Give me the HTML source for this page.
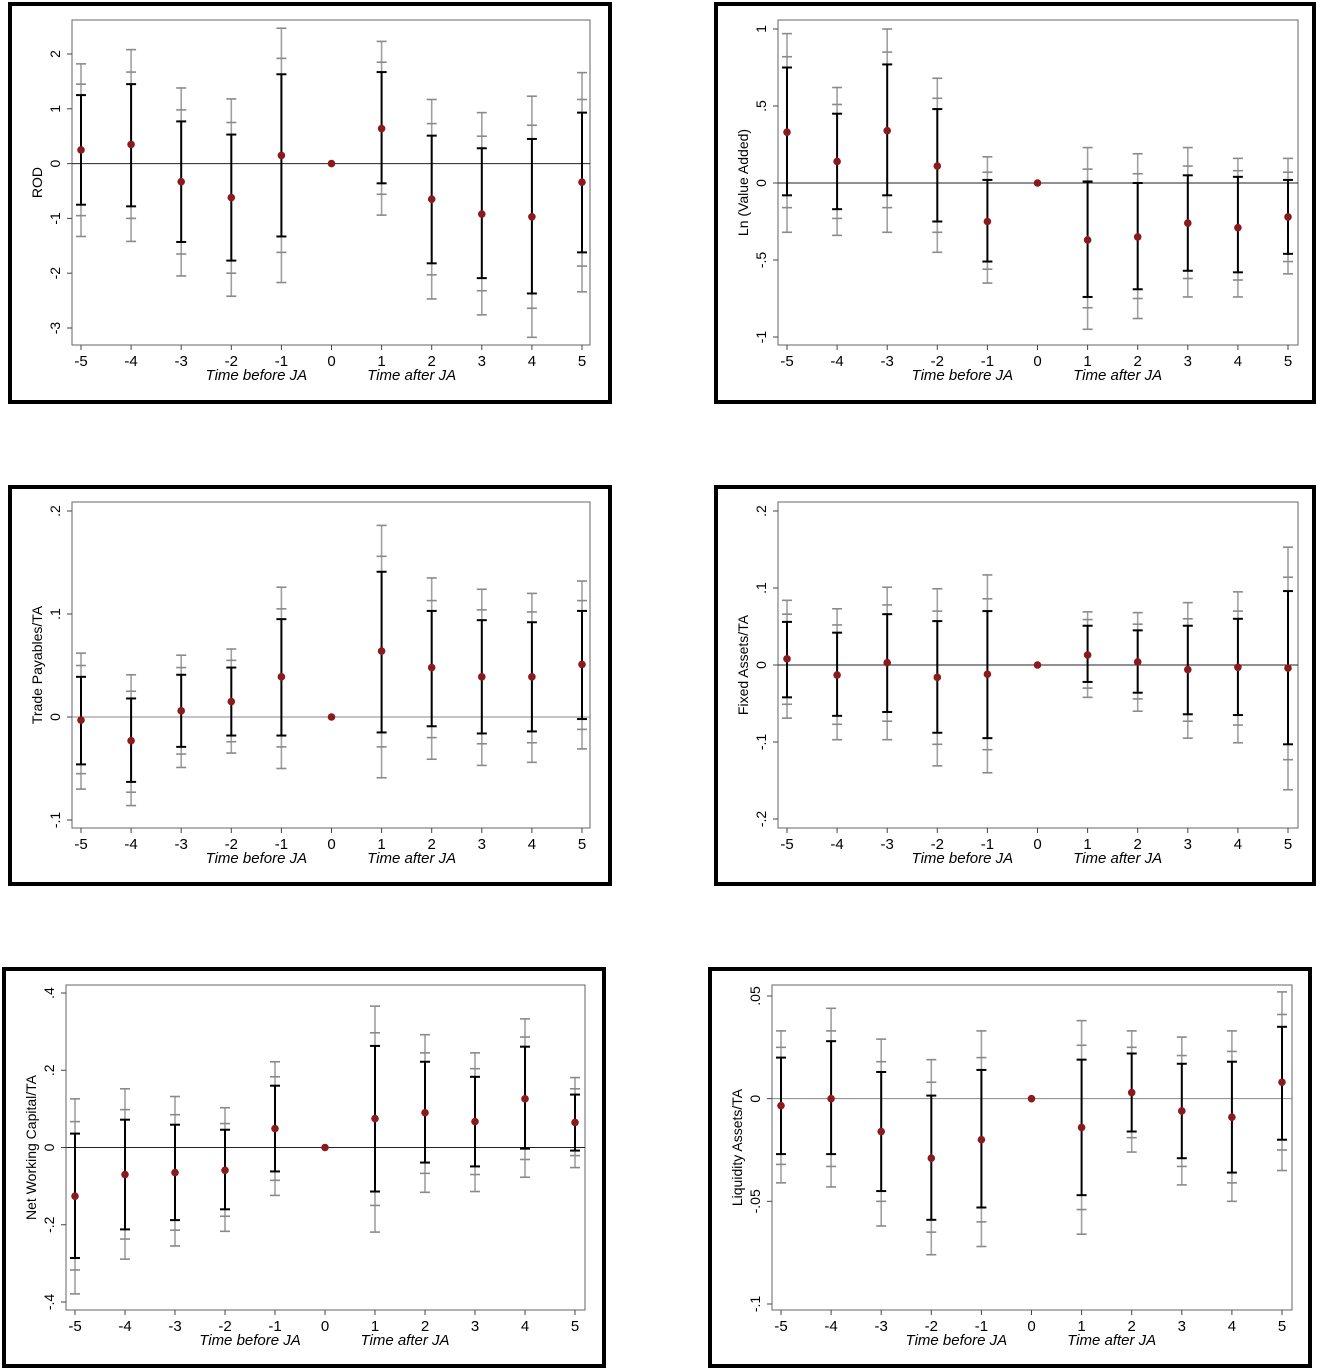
<!DOCTYPE html>
<html><head><meta charset="utf-8"><style>
html,body{margin:0;padding:0;background:#fff;}
svg{display:block;font-family:"Liberation Sans",Arial,sans-serif;}
</style></head><body>
<svg id="fig" width="1320" height="1372" viewBox="0 0 1320 1372"></svg>
<script>
const periods=[-5,-4,-3,-2,-1,0,1,2,3,4,5];
const xTickLabels=["-5","-4","-3","-2","-1","0","1","2","3","4","5"];

// Panel 1: ROD
const rodPoint=[0.25,0.35,-0.33,-0.62,0.15,0,0.64,-0.65,-0.92,-0.97,-0.34];
const rodHi90=[1.25,1.45,0.77,0.53,1.63,0,1.67,0.51,0.28,0.45,0.93];
const rodLo90=[-0.75,-0.78,-1.43,-1.77,-1.33,0,-0.36,-1.82,-2.09,-2.37,-1.62];
const rodHi95=[1.45,1.67,0.98,0.75,1.92,0,1.85,0.73,0.5,0.7,1.17];
const rodLo95=[-0.95,-1.0,-1.65,-2.0,-1.62,0,-0.56,-2.03,-2.32,-2.64,-1.87];
const rodHi99=[1.82,2.08,1.38,1.18,2.47,0,2.23,1.17,0.93,1.23,1.66];
const rodLo99=[-1.33,-1.42,-2.05,-2.42,-2.17,0,-0.94,-2.47,-2.76,-3.17,-2.34];
const rodTicks=[2,1,0,-1,-2,-3];
const rodTickLabels=["2","1","0","-1","-2","-3"];

// Panel 2: Ln (Value Added)
const vaPoint=[0.33,0.14,0.34,0.11,-0.25,0,-0.37,-0.35,-0.26,-0.29,-0.22];
const vaHi90=[0.75,0.45,0.77,0.48,0.02,0,0.01,0.0,0.05,0.04,0.02];
const vaLo90=[-0.08,-0.17,-0.08,-0.25,-0.51,0,-0.74,-0.69,-0.57,-0.58,-0.46];
const vaHi95=[0.82,0.51,0.85,0.55,0.07,0,0.09,0.06,0.11,0.08,0.07];
const vaLo95=[-0.16,-0.23,-0.16,-0.32,-0.56,0,-0.81,-0.75,-0.62,-0.63,-0.51];
const vaHi99=[0.97,0.62,1.0,0.68,0.17,0,0.23,0.19,0.23,0.16,0.16];
const vaLo99=[-0.32,-0.34,-0.32,-0.45,-0.65,0,-0.95,-0.88,-0.74,-0.74,-0.59];
const vaTicks=[1,0.5,0,-0.5,-1];
const vaTickLabels=["1",".5","0","-.5","-1"];

// Panel 3: Trade Payables/TA
const tpPoint=[-0.003,-0.023,0.006,0.015,0.039,0,0.064,0.048,0.039,0.039,0.051];
const tpHi90=[0.039,0.018,0.041,0.048,0.095,0,0.141,0.103,0.094,0.092,0.103];
const tpLo90=[-0.046,-0.063,-0.029,-0.018,-0.018,0,-0.015,-0.009,-0.016,-0.014,-0.002];
const tpHi95=[0.05,0.025,0.048,0.055,0.105,0,0.156,0.113,0.104,0.102,0.113];
const tpLo95=[-0.055,-0.073,-0.036,-0.024,-0.029,0,-0.029,-0.02,-0.026,-0.025,-0.012];
const tpHi99=[0.062,0.041,0.06,0.066,0.126,0,0.186,0.135,0.124,0.12,0.132];
const tpLo99=[-0.07,-0.086,-0.049,-0.035,-0.05,0,-0.059,-0.041,-0.047,-0.044,-0.031];
const tpTicks=[0.2,0.1,0,-0.1];
const tpTickLabels=[".2",".1","0","-.1"];

// Panel 4: Fixed Assets/TA
const faPoint=[0.008,-0.013,0.003,-0.016,-0.012,0,0.013,0.004,-0.006,-0.003,-0.004];
const faHi90=[0.056,0.042,0.066,0.057,0.07,0,0.051,0.045,0.051,0.06,0.096];
const faLo90=[-0.042,-0.066,-0.061,-0.088,-0.095,0,-0.022,-0.036,-0.064,-0.065,-0.103];
const faHi95=[0.066,0.052,0.078,0.07,0.086,0,0.059,0.053,0.06,0.07,0.114];
const faLo95=[-0.051,-0.077,-0.073,-0.103,-0.11,0,-0.03,-0.044,-0.073,-0.078,-0.123];
const faHi99=[0.084,0.073,0.101,0.099,0.117,0,0.069,0.068,0.081,0.095,0.153];
const faLo99=[-0.069,-0.097,-0.097,-0.131,-0.14,0,-0.042,-0.06,-0.095,-0.101,-0.162];
const faTicks=[0.2,0.1,0,-0.1,-0.2];
const faTickLabels=[".2",".1","0","-.1","-.2"];

// Panel 5: Net Working Capital/TA
const nwPoint=[-0.126,-0.07,-0.065,-0.059,0.049,0,0.075,0.09,0.067,0.126,0.065];
const nwHi90=[0.036,0.072,0.059,0.046,0.16,0,0.263,0.222,0.183,0.261,0.137];
const nwLo90=[-0.286,-0.212,-0.188,-0.16,-0.062,0,-0.114,-0.039,-0.049,-0.003,-0.008];
const nwHi95=[0.067,0.098,0.085,0.062,0.183,0,0.297,0.245,0.204,0.286,0.152];
const nwLo95=[-0.317,-0.237,-0.214,-0.178,-0.085,0,-0.15,-0.067,-0.07,-0.031,-0.021];
const nwHi99=[0.126,0.152,0.132,0.103,0.222,0,0.366,0.292,0.245,0.333,0.181];
const nwLo99=[-0.379,-0.289,-0.255,-0.217,-0.124,0,-0.219,-0.116,-0.114,-0.077,-0.052];
const nwTicks=[0.4,0.2,0,-0.2,-0.4];
const nwTickLabels=[".4",".2","0","-.2","-.4"];

// Panel 6: Liquidity Assets/TA
const laPoint=[-0.0034,0,-0.016,-0.029,-0.02,0,-0.014,0.003,-0.006,-0.009,0.008];
const laHi90=[0.02,0.028,0.013,0.0015,0.014,0,0.019,0.022,0.017,0.018,0.035];
const laLo90=[-0.027,-0.027,-0.045,-0.059,-0.053,0,-0.047,-0.016,-0.029,-0.036,-0.02];
const laHi95=[0.025,0.033,0.018,0.008,0.02,0,0.026,0.025,0.021,0.023,0.041];
const laLo95=[-0.032,-0.033,-0.05,-0.065,-0.06,0,-0.054,-0.019,-0.033,-0.041,-0.025];
const laHi99=[0.033,0.044,0.029,0.019,0.033,0,0.038,0.033,0.03,0.033,0.052];
const laLo99=[-0.041,-0.043,-0.062,-0.076,-0.072,0,-0.066,-0.026,-0.042,-0.05,-0.035];
const laTicks=[0.05,0,-0.05,-0.1];
const laTickLabels=[".05","0","-.05","-.1"];

const NS="http://www.w3.org/2000/svg";
const svg=document.getElementById('fig');
function mk(tag,attrs,parent){const e=document.createElementNS(NS,tag);for(const k in attrs)e.setAttribute(k,attrs[k]);(parent||svg).appendChild(e);return e;}

const panels=[
 {key:'rod',title:'ROD',box:[8,2,604,402],plot:[72,20,590,345],xa:81,xb:582,ya:[2,54],yb:[-3,328],zeroGrey:false,
  pt:rodPoint,h90:rodHi90,l90:rodLo90,h95:rodHi95,l95:rodLo95,h99:rodHi99,l99:rodLo99,ticks:rodTicks,tl:rodTickLabels},
 {key:'value-added',title:'Ln (Value Added)',box:[714,2,602,402],plot:[778,20,1298,345],xa:787,xb:1288,ya:[1,29],yb:[-1,337],zeroGrey:false,
  pt:vaPoint,h90:vaHi90,l90:vaLo90,h95:vaHi95,l95:vaLo95,h99:vaHi99,l99:vaLo99,ticks:vaTicks,tl:vaTickLabels},
 {key:'trade-payables',title:'Trade Payables/TA',box:[8,485,604,401],plot:[72,502,590,828],xa:81,xb:582,ya:[0.2,511],yb:[-0.1,820],zeroGrey:true,
  pt:tpPoint,h90:tpHi90,l90:tpLo90,h95:tpHi95,l95:tpLo95,h99:tpHi99,l99:tpLo99,ticks:tpTicks,tl:tpTickLabels},
 {key:'fixed-assets',title:'Fixed Assets/TA',box:[714,485,602,401],plot:[778,502,1298,828],xa:787,xb:1288,ya:[0.2,511],yb:[-0.2,819],zeroGrey:false,
  pt:faPoint,h90:faHi90,l90:faLo90,h95:faHi95,l95:faLo95,h99:faHi99,l99:faLo99,ticks:faTicks,tl:faTickLabels},
 {key:'net-working-capital',title:'Net Working Capital/TA',box:[2,967,604,401],plot:[66,985,585,1310],xa:75,xb:575,ya:[0.4,993],yb:[-0.4,1302],zeroGrey:false,
  pt:nwPoint,h90:nwHi90,l90:nwLo90,h95:nwHi95,l95:nwLo95,h99:nwHi99,l99:nwLo99,ticks:nwTicks,tl:nwTickLabels},
 {key:'liquidity-assets',title:'Liquidity Assets/TA',box:[708,967,604,401],plot:[772,985,1292,1310],xa:781,xb:1282,ya:[0.05,996],yb:[-0.1,1304],zeroGrey:true,
  pt:laPoint,h90:laHi90,l90:laLo90,h95:laHi95,l95:laLo95,h99:laHi99,l99:laLo99,ticks:laTicks,tl:laTickLabels}
];

panels.forEach(p=>{
  const g=mk('g',{});
  
  
  const xs=v=>p.xa+(v-periods[0])*(p.xb-p.xa)/(periods[periods.length-1]-periods[0]);
  const ys=v=>p.ya[1]+(v-p.ya[0])*(p.yb[1]-p.ya[1])/(p.yb[0]-p.ya[0]);
  const [L,T,R,B]=p.plot;
  const box=mk('rect',{x:p.box[0]+2,y:p.box[1]+2,width:p.box[2]-4,height:p.box[3]-4,fill:'#fff',stroke:'#000','stroke-width':4},g);
  
  
  const frame=mk('rect',{x:L,y:T,width:R-L,height:B-T,fill:'none',stroke:'#666','stroke-width':1},g);
  
  
  const zl=mk('line',{x1:L,x2:R,y1:ys(0),y2:ys(0),stroke:p.zeroGrey?'#888':'#222','stroke-width':1},g);
  
  
  p.ticks.forEach((t,i)=>{
    const y=ys(t);
    mk('line',{x1:L-5,x2:L,y1:y,y2:y,stroke:'#444','stroke-width':1},g);
    const tx=mk('text',{x:L-12,y:y,'font-size':14,'text-anchor':'middle',transform:`rotate(-90 ${L-12} ${y})`},g);
    
    
    tx.textContent=p.tl[i];
  });
  const yt=mk('text',{x:L-30,y:(T+B)/2,'font-size':14,'text-anchor':'middle',transform:`rotate(-90 ${L-30} ${(T+B)/2})`},g);
  
  
  yt.textContent=p.title;
  periods.forEach((v,i)=>{
    const x=xs(v);
    mk('line',{x1:x,x2:x,y1:B,y2:B+5,stroke:'#444','stroke-width':1},g);
    const tx=mk('text',{x:x,y:B+21,'font-size':15,'text-anchor':'middle'},g);
    
    
    tx.textContent=xTickLabels[i];
  });
  const xb=mk('text',{x:xs(-1.5),y:B+35,'font-size':15,'font-style':'italic','text-anchor':'middle'},g);
  
  
  xb.textContent='Time before JA';
  const xa=mk('text',{x:xs(1.6),y:B+35,'font-size':15,'font-style':'italic','text-anchor':'middle'},g);
  
  
  xa.textContent='Time after JA';
  periods.forEach((v,i)=>{
    const x=xs(v);
    if(p.h99[i]!==p.l99[i]){
      const gl=mk('line',{x1:x,x2:x,y1:ys(p.h99[i]),y2:ys(p.l99[i]),stroke:'#a0a0a0','stroke-width':1.6},g);
      
      
      [p.h99[i],p.l99[i],p.h95[i],p.l95[i]].forEach(c=>{
        mk('line',{x1:x-5,x2:x+5,y1:ys(c),y2:ys(c),stroke:'#8a8a8a','stroke-width':1.6},g);
      });
      const bl=mk('line',{x1:x,x2:x,y1:ys(p.h90[i]),y2:ys(p.l90[i]),stroke:'#000','stroke-width':2},g);
      
      
      [p.h90[i],p.l90[i]].forEach(c=>{
        mk('line',{x1:x-5,x2:x+5,y1:ys(c),y2:ys(c),stroke:'#000','stroke-width':2},g);
      });
    }
    const d=mk('circle',{cx:x,cy:ys(p.pt[i]),r:3.8,fill:'#8b1a1f'},g);
    
    
  });
});
</script>
</body></html>
